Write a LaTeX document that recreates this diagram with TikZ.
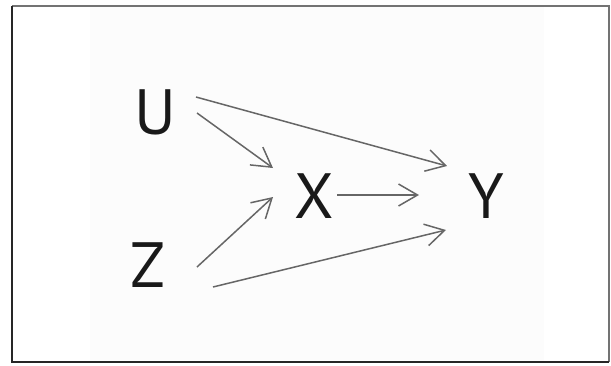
\documentclass[tikz,border=0pt]{standalone}
\usepackage{fontspec}
\setsansfont{PT Sans}
\usetikzlibrary{arrows.meta}

\begin{document}
\begin{tikzpicture}[x=1pt,y=-1pt,
	every node/.style={font=\sffamily\fontsize{64}{64}\selectfont, text=black!90, inner sep=0pt},
	edge/.style={draw=black!60, line width=1.5pt, -{Straight Barb[length=19pt,width=22pt]}}]
	\useasboundingbox (0,0) rectangle (611,365);
	\fill[black!1] (90,6) rectangle (544,362);
	\draw[black!55, line width=1.5pt] (12,6) -- (609,6) -- (609,362);
	\draw[black!85, line width=1.5pt] (12,6) -- (12,362) -- (609,362);
	% variables
	\node (u) at (155,112) {U};
	\node (z) at (148,265) {Z};
	\node (x) at (314,196) {X};
	\node (y) at (486,196) {Y};
	% causal arrows
	\draw[edge] ([shift={(42,1)}]u.center) -- ([shift={(-41,-28)}]x.center);
	\draw[edge] ([shift={(41,-15)}]u.center) -- ([shift={(-39,-30)}]y.center);
	\draw[edge] ([shift={(49,2)}]z.center) -- ([shift={(-41,1)}]x.center);
	\draw[edge] ([shift={(65,22)}]z.center) -- ([shift={(-40,34)}]y.center);
	\draw[edge] ([shift={(23,-1)}]x.center) -- ([shift={(-67,-1)}]y.center);
\end{tikzpicture}
\end{document}
